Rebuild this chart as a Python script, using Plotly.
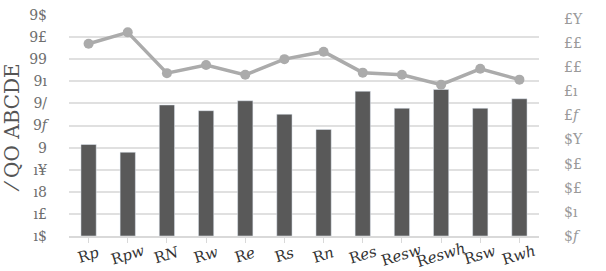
import plotly.graph_objects as go

categories = ["R<i>p</i>", "R<i>pw</i>", "R<i>N</i>", "R<i>w</i>", "R<i>e</i>", "R<i>s</i>",
              "R<i>n</i>", "R<i>es</i>", "R<i>esw</i>", "R<i>eswh</i>", "R<i>sw</i>", "R<i>wh</i>"]
bar_values = [4.14, 3.79, 5.93, 5.67, 6.12, 5.51, 4.82, 6.55, 5.78, 6.63, 5.78, 6.21]
line_values = [7.97, 8.44, 6.75, 7.09, 6.68, 7.33, 7.64, 6.77, 6.68, 6.27, 6.93, 6.48]

left_ticks = [0, 1, 2, 3, 4, 5, 6, 7, 8, 9, 10]
left_text = ["ı$", "ı£", "ı8", "ı¥", "9", "9<i>f</i>", "9/", "9ı", "99", "9£", "9$"]
right_ticks = [0, 1, 2, 3, 4, 5, 6, 7, 8, 9]
right_text = ["$<i>f</i>", "$ı", "$£", "$£", "$Y", "£<i>f</i>", "£ı", "££", "££", "£Y"]
y_title = "⁄ QO ABCDE"

x_idx = list(range(len(categories)))

fig = go.Figure()
fig.add_trace(go.Bar(x=x_idx, y=bar_values, marker_color="#595959", width=0.39,
                     showlegend=False))
fig.add_trace(go.Scatter(x=x_idx, y=line_values, yaxis="y2", mode="lines+markers",
                         line=dict(color="#ababab", width=3.5),
                         marker=dict(color="#ababab", size=10), showlegend=False))

for i, c in enumerate(categories):
    fig.add_annotation(x=i, y=-0.088, xref="x", yref="paper", text=c, showarrow=False,
                       textangle=-17, xanchor="center", yanchor="middle",
                       font=dict(family="DejaVu Serif", size=15, color="#333333"))

fig.update_layout(
    width=606, height=271,
    margin=dict(l=68, r=67, t=7, b=35),
    paper_bgcolor="white", plot_bgcolor="white",
    bargap=0.6,
    xaxis=dict(range=[-0.5, len(categories) - 0.5], tickvals=x_idx, ticktext=[""] * len(categories),
               showgrid=False, zeroline=False, showline=True, linecolor="#d9d9d9", linewidth=1.5,
               ticks="outside", tickson="boundaries", ticklen=5, tickcolor="#d9d9d9"),
    yaxis=dict(range=[0, 10], tickvals=left_ticks, ticktext=left_text,
               showgrid=True, gridcolor="#e0e0e0", gridwidth=1.5, zeroline=False,
               ticks="", ticklabelstandoff=21,
               tickfont=dict(family="DejaVu Serif", size=14, color="#6e6e6e"),
               title=dict(text=y_title, font=dict(family="DejaVu Serif", size=20, color="#555555"),
                          standoff=8)),
    yaxis2=dict(range=[0, 9.16], overlaying="y", side="right", tickvals=right_ticks,
                ticktext=right_text, showgrid=False, zeroline=False, ticks="",
                ticklabelstandoff=24,
                tickfont=dict(family="DejaVu Serif", size=14, color="#9a9a9a")),
)

fig.write_html("out.html")
